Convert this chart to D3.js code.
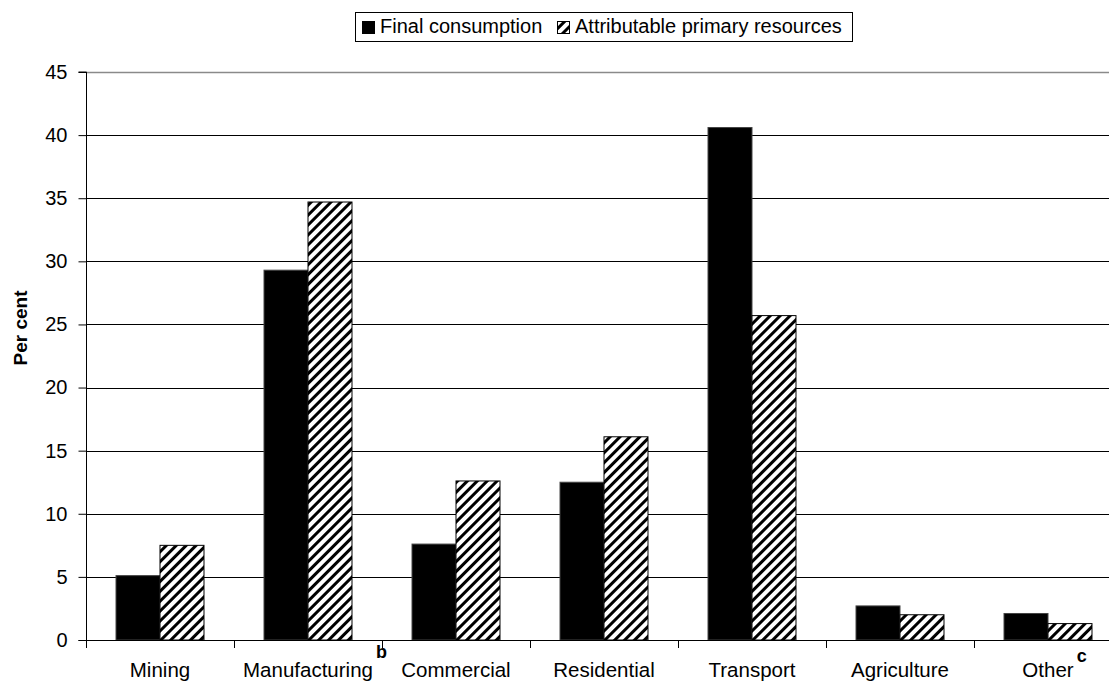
<!DOCTYPE html>
<html>
<head>
<meta charset="utf-8">
<script src="https://cdn.jsdelivr.net/npm/d3@7"></script>
<style>
  html, body { margin: 0; padding: 0; background: #fff; }
  svg { display: block; font-family: "Liberation Sans", Arial, sans-serif; }
</style>
</head>
<body>
<svg id="chart" width="1109" height="683"></svg>
<script>
// Energy use by sector, per cent of total
const categories = ["Mining", "Manufacturing", "Commercial", "Residential", "Transport", "Agriculture", "Other"];
const seriesNames = ["Final consumption", "Attributable primary resources"];
const finalConsumption = [5.1, 29.3, 7.6, 12.5, 40.6, 2.7, 2.1];
const primaryResources = [7.5, 34.7, 12.6, 16.1, 25.7, 2.0, 1.3];
const yTicks = [0, 5, 10, 15, 20, 25, 30, 35, 40, 45];
const footnotes = { "Manufacturing": "b", "Other": "c" };

const svg = d3.select("#chart");
const plotLeft = 86, plotTop = 72, plotBottom = 640, step = 148;

// hatch pattern for the second series
const defs = svg.append("defs");
const pat = defs.append("pattern")
  .attr("id", "hatch")
  .attr("patternUnits", "userSpaceOnUse")
  .attr("width", 7).attr("height", 7)
  .attr("patternTransform", "rotate(45)");
pat.append("rect").attr("width", 7).attr("height", 7).attr("fill", "#fff");
pat.append("rect").attr("x", 0).attr("y", 0).attr("width", 3).attr("height", 7).attr("fill", "#000");

const x = d3.scaleBand().domain(categories).range([plotLeft, plotLeft + step * categories.length]).padding(0);
const xs = d3.scaleBand().domain(seriesNames).range([0, x.bandwidth()]).paddingInner(0).paddingOuter(0.682);
const y = d3.scaleLinear().domain([0, 45]).range([plotBottom, plotTop]);

// gridlines
svg.append("g").selectAll("line")
  .data(yTicks.filter(t => t > 0))
  .join("line")
  .attr("x1", plotLeft).attr("x2", 1109)
  .attr("y1", d => Math.round(y(d)) + 0.5).attr("y2", d => Math.round(y(d)) + 0.5)
  .attr("stroke", d => d === 45 ? "#8a8a8a" : "#000")
  .attr("stroke-width", d => d === 45 ? 1.6 : 1);

// bars
const rows = categories.map((c, i) => ({ cat: c, values: [finalConsumption[i], primaryResources[i]] }));
const groups = svg.append("g").selectAll("g")
  .data(rows).join("g")
  .attr("transform", d => `translate(${x(d.cat)},0)`);
groups.selectAll("rect")
  .data(d => d.values.map((v, j) => ({ name: seriesNames[j], v })))
  .join("rect")
  .attr("x", d => xs(d.name))
  .attr("width", xs.bandwidth())
  .attr("y", d => y(d.v))
  .attr("height", d => y(0) - y(d.v))
  .attr("fill", d => d.name === seriesNames[0] ? "#000" : "url(#hatch)")
  .attr("stroke", d => d.name === seriesNames[0] ? "#444" : "#000")
  .attr("stroke-width", 1);

// y axis
const yAxis = d3.axisLeft(y).tickValues(yTicks).tickSize(8).tickPadding(11);
const gy = svg.append("g").attr("transform", `translate(${plotLeft + 0.5},0)`).call(yAxis);
gy.select(".domain").attr("stroke", "#000").attr("d", `M-8,${y(45)}H0V${plotBottom + 0.5}H-8`);
gy.selectAll(".tick line").attr("stroke", "#000");
gy.selectAll("text").attr("font-size", 20).attr("fill", "#000")
  .attr("font-family", "Liberation Sans, Arial, sans-serif");

// x axis line and category separators
svg.append("line").attr("x1", plotLeft).attr("x2", 1109)
  .attr("y1", plotBottom + 0.5).attr("y2", plotBottom + 0.5).attr("stroke", "#000");
svg.append("g").selectAll("line")
  .data(categories)
  .join("line")
  .attr("x1", d => Math.round(x(d)) + 0.5).attr("x2", d => Math.round(x(d)) + 0.5)
  .attr("y1", plotBottom).attr("y2", plotBottom + 8)
  .attr("stroke", "#000");

// category labels with footnote markers
const labels = svg.append("g").selectAll("g")
  .data(categories).join("g");
labels.append("text")
  .attr("x", d => x(d) + x.bandwidth() / 2)
  .attr("y", 677)
  .attr("text-anchor", "middle")
  .attr("font-size", 20.5)
  .text(d => d)
  .each(function (d) {
    if (!footnotes[d]) return;
    const w = this.getComputedTextLength();
    svg.append("text")
      .attr("x", x(d) + x.bandwidth() / 2 + w / 2 + 3)
      .attr("y", d === "Other" ? 662 : 658)
      .attr("font-size", 18)
      .attr("font-weight", "bold")
      .text(footnotes[d]);
  });

// y axis title
svg.append("text")
  .attr("transform", "translate(27,328) rotate(-90)")
  .attr("text-anchor", "middle")
  .attr("font-size", 19)
  .attr("font-weight", "bold")
  .text("Per cent");

// legend
const legend = svg.append("g");
legend.append("rect").attr("x", 355.5).attr("y", 12.5).attr("width", 497).attr("height", 29)
  .attr("fill", "#fff").attr("stroke", "#000");
const legendX = [362, 557];
seriesNames.forEach((name, i) => {
  legend.append("rect")
    .attr("x", legendX[i] + 0.5).attr("y", 21.5).attr("width", 12).attr("height", 12)
    .attr("fill", i === 0 ? "#000" : "url(#hatch)")
    .attr("stroke", "#000");
  legend.append("text")
    .attr("x", legendX[i] + 18).attr("y", 33)
    .attr("font-size", 20)
    .text(name);
});
</script>
</body>
</html>
